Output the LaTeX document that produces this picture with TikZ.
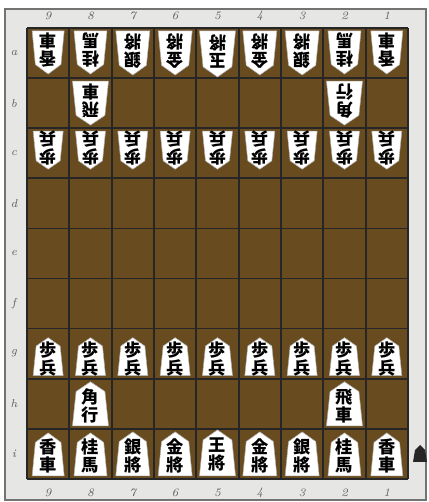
\documentclass[tikz,border=0pt]{standalone}
\usepackage{fontspec}
\newfontfamily\jpfont{Noto Sans CJK JP}
\usepackage{tikz}
\usetikzlibrary{calc}
\usepackage{xcolor}
\definecolor{boardbrown}{RGB}{104,75,30}
\definecolor{framegray}{RGB}{230,230,228}
\definecolor{labelgray}{RGB}{95,95,95}

\tikzset{
  koma/.style={fill=white, draw=black!30, line width=0.3pt},
  kanji/.style={font=\jpfont\bfseries\fontsize{9.8}{10.2}\selectfont, align=center, inner sep=0pt},
  coord/.style={font=\fontsize{6.5}{6.5}\selectfont\itshape, text=labelgray, inner sep=0pt},
  gridline/.style={black!85, line width=1pt}
}

% piece: name, file, rank (0=a), width, height, text, angle
\newcommand{\koma}[7]{%
  \pgfmathsetmacro{\kx}{27+42.33*(9.5-#2)}%
  \pgfmathsetmacro{\ky}{474-50.1*(#3+0.5)+ifthenelse(#7==0,-1,1)*((50.1-#5)/2-3)}%
  \begin{scope}[shift={(\kx,\ky)}, rotate=#7]
    \path[koma] (-#4/2,-#5/2) -- (#4/2,-#5/2) -- (0.4*#4,0.28*#5)
      -- (0,#5/2) -- (-0.4*#4,0.28*#5) -- cycle;
    \node[kanji, transform shape] (#1) at (0,-2) {#6};
  \end{scope}
}

\begin{document}
\begin{tikzpicture}[x=0.02cm, y=0.02cm]
    \useasboundingbox (0,0) rectangle (428,502);

    % Cadre
    \fill[framegray] (5,2) rectangle (426,493);
    \draw[black!55, line width=0.6pt] (5,2) rectangle (426,493);

    % Plateau
    \fill[boardbrown] (27,23.1) rectangle (408,474);
    \foreach \i in {0,...,9} {
        \draw[gridline] ({27+42.33*\i},23.1) -- ({27+42.33*\i},474);
    }
    \foreach \i in {0,...,9} {
        \draw[gridline] (27,{474-50.1*\i}) -- (408,{474-50.1*\i});
    }

    % --- Coordonnées ---
    \foreach \f in {1,...,9} {
        \node[coord] (top\f) at ({27+42.33*(9.5-\f)},486) {\f};
        \node[coord] (bot\f) at ({27+42.33*(9.5-\f)},9) {\f};
    }
    \foreach \r/\l in {0/a,1/b,2/c,3/d,4/e,5/f,6/g,7/h,8/i} {
        \node[coord] (rank\l) at (14,{474-50.1*(\r+0.5)}) {\l};
    }

    % --- Pions ---
    \foreach \f in {1,...,9} {
        \koma{\f g}{\f}{6}{30}{38}{歩\\兵}{0}
        \koma{\f c}{\f}{2}{30}{38}{歩\\兵}{180}
    }

    % --- Dernière rangée ---
    \foreach \f/\a/\b/\w/\h in {9/香/車/32/43, 8/桂/馬/33/43, 7/銀/將/34/44,
                                6/金/將/34/44, 4/金/將/34/44, 3/銀/將/34/44,
                                2/桂/馬/33/43, 1/香/車/32/43} {
        \koma{\f i}{\f}{8}{\w}{\h}{\a\\\b}{0}
        \koma{\f a}{\f}{0}{\w}{\h}{\a\\\b}{180}
    }

    % Rois
    \koma{5i}{5}{8}{36}{46}{王\\將}{0}
    \koma{5a}{5}{0}{36}{46}{玉\\將}{180}

    % Tour et fou
    \koma{8h}{8}{7}{36}{44}{角\\行}{0}
    \koma{2h}{2}{7}{36}{44}{飛\\車}{0}
    \koma{8b}{8}{1}{36}{44}{飛\\車}{180}
    \koma{2b}{2}{1}{36}{44}{角\\行}{180}

    % Marque du joueur
    \fill[black!85] (413,40) -- (427,40) -- (425,52) -- (420,57) -- (415,52) -- cycle;
\end{tikzpicture}
\end{document}
